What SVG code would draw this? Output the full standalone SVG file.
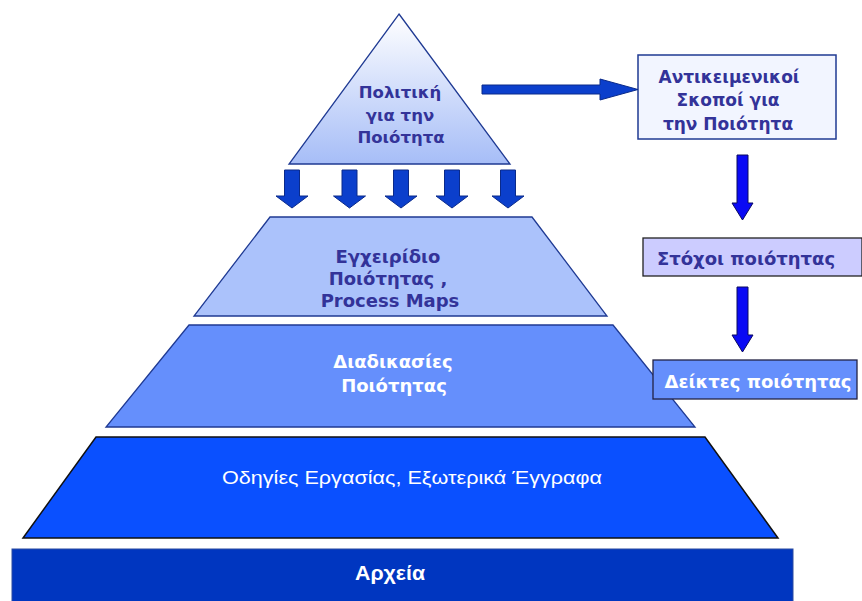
<svg xmlns="http://www.w3.org/2000/svg" width="862" height="601" viewBox="0 0 862 601">
<style>
.t{font-family:"DejaVu Sans","Liberation Sans",Arial,sans-serif;font-weight:bold;font-size:18px;text-anchor:middle}
.s{font-size:16.5px}
.m{font-size:17px}
.navy{fill:#333399}
.white{fill:#ffffff}
.da{fill:#0b3fcc;stroke:#0a2a8a;stroke-width:1}
.ra{fill:#0a0af5;stroke:#0a0a60;stroke-width:1}
</style>
<defs>
<linearGradient id="tg" x1="0" y1="0" x2="0" y2="1">
<stop offset="0" stop-color="#ffffff"/>
<stop offset="1" stop-color="#a6bdf7"/>
</linearGradient>
<path id="dArrow" d="M-7.5,0 H7.5 V26 H16 L0,38 L-16,26 H-7.5 Z"/>
<path id="rArrow" d="M-5.5,0 H5.5 V48 H10.5 L0,65 L-10.5,48 H-5.5 Z"/>
</defs>
<g id="policy">
<polygon points="399,14 510,164 289,164" fill="url(#tg)" stroke="#1f3a93" stroke-width="1.3"/>
<text class="t s navy" x="400" y="98">Πολιτική</text>
<text class="t s navy" x="400" y="121">για την</text>
<text class="t s navy" x="401" y="143">Ποιότητα</text>
</g>
<g id="manual">
<polygon points="270,217 532,217 607,316 194,316" fill="#abc2fb" stroke="#1f3a93" stroke-width="1.3"/>
<text class="t navy" x="388" y="263">Εγχειρίδιο</text>
<text class="t navy" x="388" y="285">Ποιότητας ,</text>
<text class="t navy" x="390" y="307">Process Maps</text>
</g>
<g id="procedures">
<polygon points="189,325 613,325 695,427 106,427" fill="#658ffc" stroke="#1f3a93" stroke-width="1.3"/>
<text class="t white" x="393" y="368">Διαδικασίες</text>
<text class="t white" x="394" y="392">Ποιότητας</text>
</g>
<g id="instructions">
<polygon points="96,437 705,437 778,538 23,538" fill="#0a50ff" stroke="#111111" stroke-width="1.5"/>
<text x="412" y="484" font-family="'Liberation Sans',Arial,sans-serif" font-size="19" fill="#ffffff" text-anchor="middle" textLength="380" lengthAdjust="spacingAndGlyphs">Οδηγίες Εργασίας, Εξωτερικά Έγγραφα</text>
</g>
<g id="records">
<rect x="12" y="549" width="781" height="54" fill="#0036c0" stroke="#2a4aa0" stroke-width="1"/>
<text x="390" y="580" font-family="'Liberation Sans',Arial,sans-serif" font-weight="bold" font-size="20" fill="#ffffff" text-anchor="middle" textLength="70" lengthAdjust="spacingAndGlyphs">Αρχεία</text>
</g>
<g id="objectives">
<rect x="638" y="55" width="198" height="84" fill="#f2f5ff" stroke="#1f3a93" stroke-width="1.5"/>
<text class="t m navy" x="729" y="83">Αντικειμενικοί</text>
<text class="t m navy" x="728" y="106">Σκοποί για</text>
<text class="t m navy" x="728" y="130">την Ποιότητα</text>
</g>
<g id="targets">
<rect x="643" y="238" width="219" height="38" fill="#ccccff" stroke="#222222" stroke-width="1.3"/>
<text class="t navy" x="746" y="265">Στόχοι ποιότητας</text>
</g>
<g id="indicators">
<rect x="653" y="360" width="204" height="39" fill="#658ffc" stroke="#222244" stroke-width="1.3"/>
<text class="t white" x="758" y="388">Δείκτες ποιότητας</text>
</g>
<g id="connectors">
<use href="#dArrow" x="292" y="170" class="da"/>
<use href="#dArrow" x="349.5" y="170" class="da"/>
<use href="#dArrow" x="401" y="170" class="da"/>
<use href="#dArrow" x="452" y="170" class="da"/>
<use href="#dArrow" x="508" y="170" class="da"/>
<path d="M482,85 H600 V79 L638,89.5 L600,100 V94 H482 Z" class="da"/>
<use href="#rArrow" x="742.5" y="155" class="ra"/>
<use href="#rArrow" x="742.5" y="287" class="ra"/>
</g>
</svg>
